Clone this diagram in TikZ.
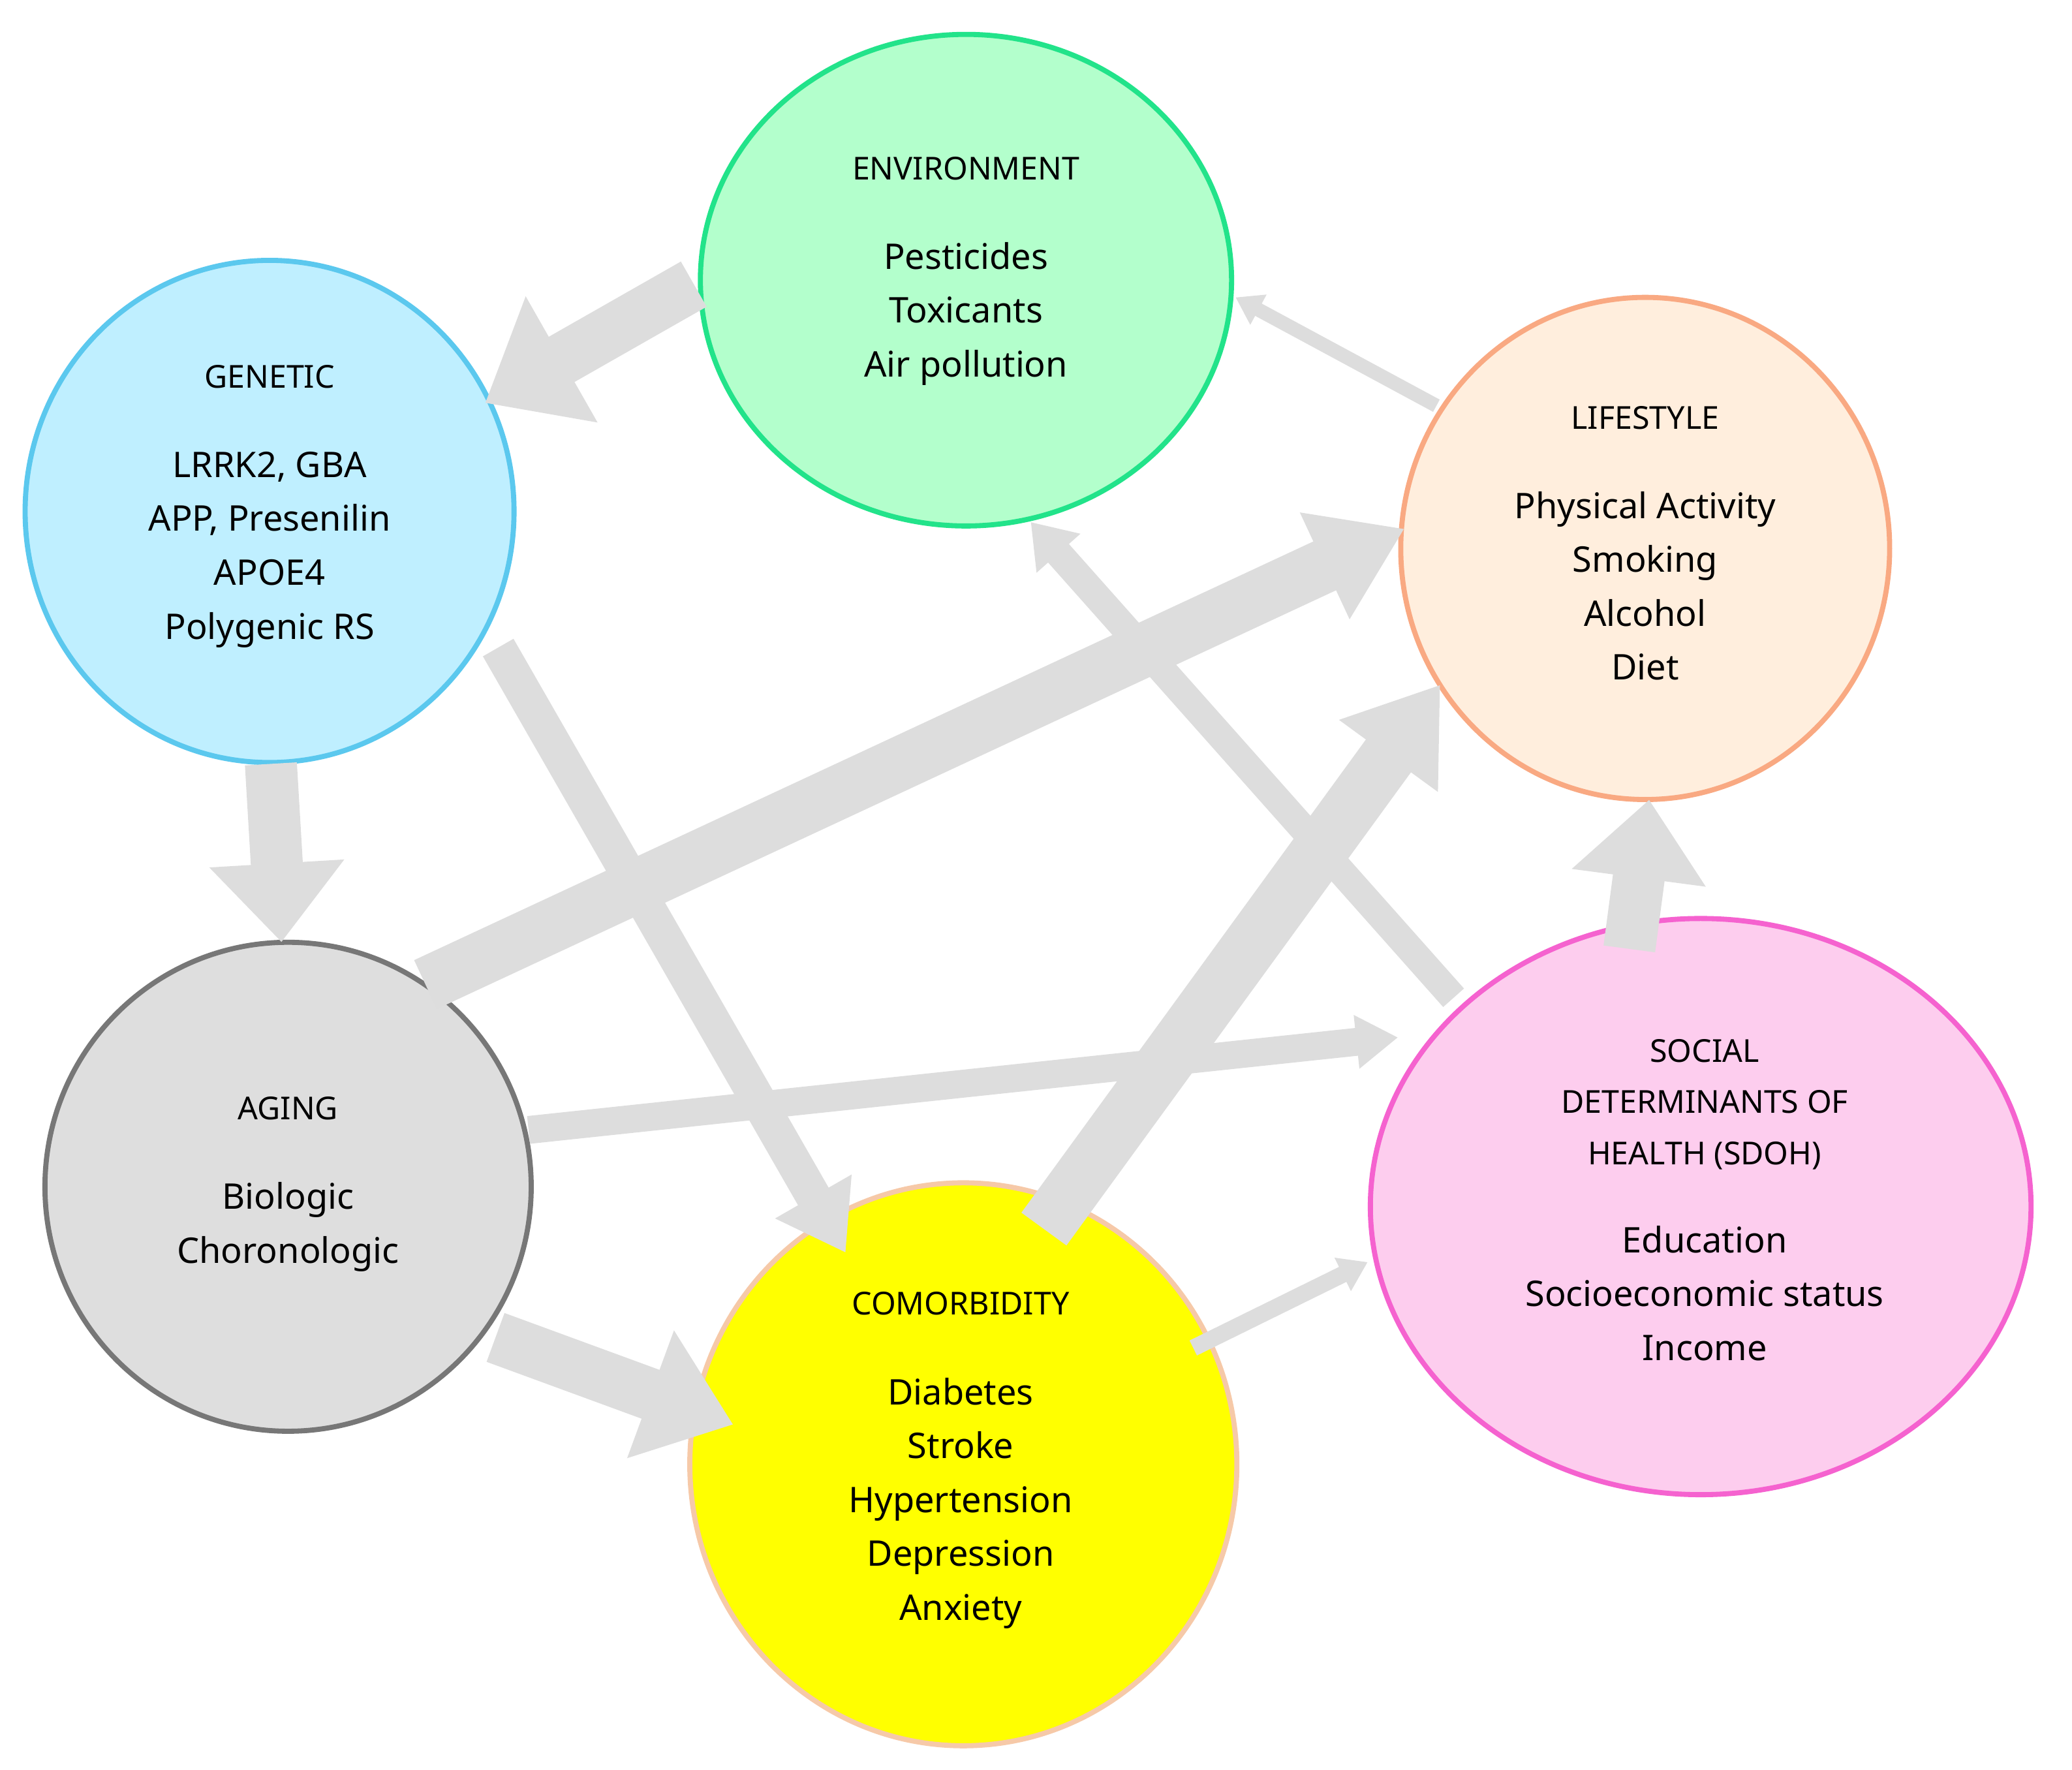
\documentclass[tikz,border=0pt]{standalone}
\usepackage{fontspec}
\setmainfont{Noto Sans}
\usetikzlibrary{shapes.geometric,arrows.meta}
\definecolor{arrgray}{HTML}{DDDDDD}
\definecolor{envf}{HTML}{B3FFCC}\definecolor{envd}{HTML}{22E38A}
\definecolor{genf}{HTML}{BFEFFF}\definecolor{gend}{HTML}{5BC8EE}
\definecolor{lifef}{HTML}{FFEEDD}\definecolor{lifed}{HTML}{F9A982}
\definecolor{agef}{HTML}{DEDEDE}\definecolor{aged}{HTML}{777777}
\definecolor{comf}{HTML}{FFFF00}\definecolor{comd}{HTML}{F6C9A8}
\definecolor{sdohf}{HTML}{FDCDEE}\definecolor{sdohd}{HTML}{F562CF}
\newcommand\myttl{\fontsize{34}{55}\selectfont\bfseries}
\begin{document}
\begin{tikzpicture}[x=0.05cm,y=-0.05cm,
  circ/.style={ellipse,draw,line width=5.5pt,inner sep=0pt},
  txt/.style={align=center,font=\fontsize{38}{58}\selectfont},
  arr/.style args={#1/#2/#3}{draw=arrgray,line width=#1pt,-{Triangle[width=#2pt,length=#3pt]}}]
\useasboundingbox (0,0) rectangle (1568,1339);
\node[circ,fill=envf,draw=envd] at (731,212) [minimum width=20.1cm,minimum height=18.6cm] (env) {};
\node[circ,fill=genf,draw=gend] at (204,387) [minimum width=18.5cm,minimum height=19cm] (gen) {};
\node[circ,fill=lifef,draw=lifed] at (1245,415) [minimum width=18.5cm,minimum height=19cm] (life) {};
\node[circ,fill=agef,draw=aged] at (218,898) [minimum width=18.4cm,minimum height=18.5cm] (age) {};
\node[circ,fill=comf,draw=comd] at (729,1108) [minimum width=20.7cm,minimum height=21.3cm] (com) {};
\node[circ,fill=sdohf,draw=sdohd] at (1287,913) [minimum width=25cm,minimum height=21.8cm] (sdoh) {};

\node[txt] (tenv) at (731,205) {{\myttl ENVIRONMENT}\\[1.35cm]Pesticides\\Toxicants\\Air pollution};
\node[txt] (tgen) at (204,383) {{\myttl GENETIC}\\[1.35cm]LRRK2, GBA\\APP, Presenilin\\APOE4\\Polygenic RS};
\node[txt] (tlife) at (1245,411) {{\myttl LIFESTYLE}\\[1.35cm]Physical Activity\\Smoking\\Alcohol\\Diet};
\node[txt] (tage) at (218,896) {{\myttl AGING}\\[1.35cm]Biologic\\Choronologic};
\node[txt] (tcom) at (727,1105) {{\myttl COMORBIDITY}\\[1.35cm]Diabetes\\Stroke\\Hypertension\\Depression\\Anxiety};
\node[txt] (tsdoh) at (1290,908) {{\myttl SOCIAL}\\[-0.1cm]{\myttl DETERMINANTS OF}\\[-0.1cm]{\myttl HEALTH (SDOH)}\\[1.3cm]Education\\Socioeconomic status\\Income};

\coordinate (a1) at (525,215); \coordinate (b1) at (367,305);
\coordinate (a2) at (1087,307); \coordinate (b2) at (935,225);
\coordinate (a3) at (205,578); \coordinate (b3) at (213,713);
\coordinate (a4) at (377,490); \coordinate (b4) at (640,948);
\coordinate (a5) at (322,745); \coordinate (b5) at (1063,400);
\coordinate (a6) at (1100,755); \coordinate (b6) at (780,395);
\coordinate (a7) at (790,930); \coordinate (b7) at (1090,518);
\coordinate (a8) at (1233,718); \coordinate (b8) at (1248,605);
\coordinate (a9) at (400,855); \coordinate (b9) at (1058,785);
\coordinate (a10) at (375,1012); \coordinate (b10) at (555,1078);
\coordinate (a11) at (903,1020); \coordinate (b11) at (1035,955);

\draw[arr=56/150/95] (a1) -- (b1);
\draw[arr=15/35/28] (a2) -- (b2);
\draw[arr=56/140/85] (a3) -- (b3);
\draw[arr=38/90/70] (a4) -- (b4);
\draw[arr=58/120/95] (a5) -- (b5);
\draw[arr=30/60/45] (a6) -- (b6);
\draw[arr=60/125/95] (a7) -- (b7);
\draw[arr=56/140/85] (a8) -- (b8);
\draw[arr=30/55/45] (a9) -- (b9);
\draw[arr=56/140/95] (a10) -- (b10);
\draw[arr=18/38/30] (a11) -- (b11);
\end{tikzpicture}
\end{document}
